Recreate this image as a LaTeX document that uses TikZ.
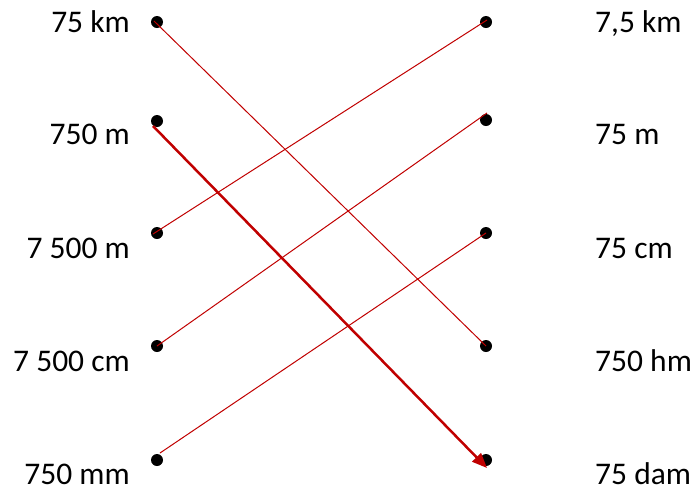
\documentclass[tikz,border=0pt]{standalone}
\usepackage{fontspec}
\setmainfont{Carlito}
\usetikzlibrary{arrows.meta}
\definecolor{lred}{HTML}{C00000}
\tikzset{
  dot/.style={circle,fill=black,inner sep=0pt,minimum size=12pt},
  lab/.style={inner sep=0pt,font=\fontsize{31.5}{36}\selectfont},
  thinlink/.style={draw=lred,line width=1pt},
  thicklink/.style={draw=lred,line width=2.5pt,-{Triangle[length=15pt,width=12pt]}},
}
\begin{document}
\begin{tikzpicture}[x=1pt,y=-1pt]
\useasboundingbox (0,0) rectangle (694,491);
% dots
\node[dot] (L1) at (157,22) {};
\node[dot] (L2) at (157,121) {};
\node[dot] (L3) at (157,233) {};
\node[dot] (L4) at (157,346) {};
\node[dot] (L5) at (157,460) {};
\node[dot] (R1) at (486,22) {};
\node[dot] (R2) at (486,120) {};
\node[dot] (R3) at (486,233) {};
\node[dot] (R4) at (486,346) {};
\node[dot] (R5) at (486,460) {};
% labels
\node[lab,anchor=base east] (t1) at (130,32) {75 km};
\node[lab,anchor=base east] (t2) at (130,144) {750 m};
\node[lab,anchor=base east] (t3) at (130,258) {7 500 m};
\node[lab,anchor=base east] (t4) at (130,371) {7 500 cm};
\node[lab,anchor=base east] (t5) at (130,484) {750 mm};
\node[lab,anchor=base west] (u1) at (595,32) {7,5 km};
\node[lab,anchor=base west] (u2) at (595,144) {75 m};
\node[lab,anchor=base west] (u3) at (595,258) {75 cm};
\node[lab,anchor=base west] (u4) at (595,371) {750 hm};
\node[lab,anchor=base west] (u5) at (595,484) {75 dam};
% connectors
\draw[thinlink] ([shift={(-3,-1)}]L1.center) -- (R4.center);
\draw[thinlink] ([shift={(-4,1)}]L3.center) -- ([shift={(1,-2)}]R1.center);
\draw[thinlink] (L4.center) -- ([shift={(1,-7)}]R2.center);
\draw[thinlink] ([shift={(3,-7)}]L5.center) -- (R3.center);
\draw[thicklink] ([shift={(-4,5)}]L2.center) -- ([shift={(1,8)}]R5.center);
\end{tikzpicture}
\end{document}
